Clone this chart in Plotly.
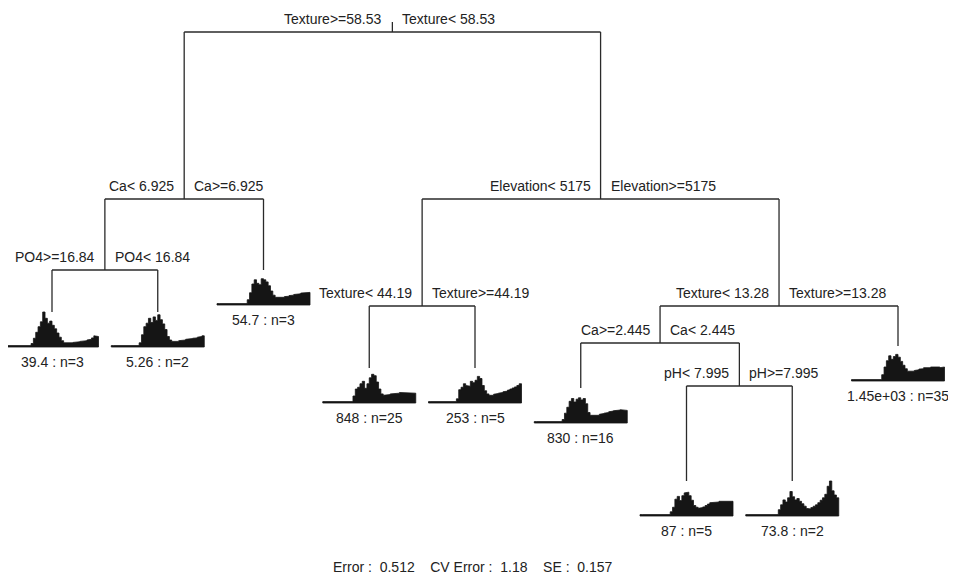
import plotly.graph_objects as go

# ---------------- data ----------------
# internal splits (rpart node number -> left label, right label)
split_nodes = [1, 2, 4, 3, 6, 7, 14, 29]
split_left = ["Texture>=58.53", "Ca< 6.925", "PO4>=16.84", "Elevation< 5175",
              "Texture< 44.19", "Texture< 13.28", "Ca>=2.445", "pH< 7.995"]
split_right = ["Texture< 58.53", "Ca>=6.925", "PO4< 16.84", "Elevation>=5175",
               "Texture>=44.19", "Texture>=13.28", "Ca< 2.445", "pH>=7.995"]

# leaves in left-to-right order
leaf_nodes = [8, 9, 5, 12, 13, 28, 58, 59, 15]
leaf_yval = ["39.4", "5.26", "54.7", "848", "253", "830", "87", "73.8", "1.45e+03"]
leaf_n = [3, 2, 3, 25, 5, 16, 5, 2, 35]

# species profiles shown at each leaf (relative abundance, 0-100)
leaf1 = [4]*11 + [10,25,42,58,72,100,82,68,74,62,52,40,28,18,12,10,10,12,13,14,
                  15,16,18,18,20,22,26,32,30]
leaf2 = [4]*12 + [12,35,58,68,82,70,86,76,92,78,66,50,30,20,16,15,16,18,19,20,
                  22,23,24,25,26,28,30,32]
leaf3 = [4]*13 + [15,35,60,72,62,58,75,72,66,55,40,28,22,20,20,22,24,25,27,28,
                  30,31,32,34,35,36,36]
leaf4 = [4]*13 + [20,40,45,55,62,42,55,72,82,78,60,40,26,22,22,24,26,28,28,28,
                  30,29,28,30,30,28,28]
leaf5 = [4]*12 + [12,38,45,55,50,48,62,58,65,76,70,50,35,26,22,22,25,27,28,30,
                  32,34,37,40,43,46,50,55]
leaf6 = [4]*12 + [10,28,45,62,70,60,68,72,66,70,55,30,22,20,20,22,25,27,28,30,
                  32,34,35,36,37,38,38,36]
leaf7 = [4]*13 + [12,25,48,56,44,58,66,68,58,45,30,25,22,24,26,30,34,38,40,38,
                  40,42,44,42,43,44,42]
leaf8 = [4]*14 + [18,32,46,40,52,70,55,46,50,42,35,28,22,20,24,28,32,38,45,52,
                  62,85,100,72,60,52]
leaf9 = [4]*13 + [18,40,58,72,62,70,76,68,56,45,35,28,26,28,30,32,34,35,38,36,
                  38,40,40,41,40,38,40]
leaf_profiles = [leaf1, leaf2, leaf3, leaf4, leaf5, leaf6, leaf7, leaf8, leaf9]

error_val, cv_error_val, se_val = "0.512", "1.18", "0.157"

# ---------------- layout (tree drawing levels, in axis units) ----------------
node_level = {1: 32, 2: 199, 4: 270, 8: 312, 9: 312, 5: 270, 3: 199, 6: 306,
              12: 368, 13: 368, 7: 306, 14: 343, 28: 388, 29: 386,
              58: 481, 59: 481, 15: 346}
LEAF_X0, LEAF_DX = 52, 105.75
BOX_H, BOX_W = 35, 93
LINE_C = "#2a2a2a"
FONT = dict(family="Liberation Sans, Arial, sans-serif", size=14, color="#222")
PAGE_OFF = 8  # default body margin of the html page

xpos = {}
for i, nd in enumerate(leaf_nodes):
    xpos[nd] = LEAF_X0 + i * LEAF_DX


def get_x(nd):
    if nd in xpos:
        return xpos[nd]
    xpos[nd] = (get_x(2 * nd) + get_x(2 * nd + 1)) / 2
    return xpos[nd]


for nd in split_nodes:
    get_x(nd)

fig = go.Figure()

# edges
ex, ey = [], []
root = split_nodes[0]
ex += [xpos[root], xpos[root], None]
ey += [node_level[root] - 10, node_level[root], None]
for nd in split_nodes:
    l, r = 2 * nd, 2 * nd + 1
    y0 = node_level[nd]
    ex += [xpos[l], xpos[r], None]
    ey += [y0, y0, None]
    for c in (l, r):
        ex += [xpos[c], xpos[c], None]
        ey += [y0, node_level[c], None]
fig.add_trace(go.Scatter(x=ex, y=ey, mode="lines",
                         line=dict(color=LINE_C, width=1.3),
                         hoverinfo="skip", showlegend=False))

# split labels
for nd, lt, rt in zip(split_nodes, split_left, split_right):
    fig.add_annotation(x=xpos[nd], y=node_level[nd] - 13, text=lt, showarrow=False,
                       xanchor="right", yanchor="middle", xshift=-8, font=FONT)
    fig.add_annotation(x=xpos[nd], y=node_level[nd] - 13, text=rt, showarrow=False,
                       xanchor="left", yanchor="middle", xshift=8, font=FONT)

# leaf profiles + labels
for nd, prof, yv, n in zip(leaf_nodes, leaf_profiles, leaf_yval, leaf_n):
    cx = xpos[nd]
    base = node_level[nd] + BOX_H
    left = cx - BOX_W / 2
    w = BOX_W / len(prof)
    px, py = [left], [base]
    for i, v in enumerate(prof):
        h = v / 100 * BOX_H
        px += [left + i * w, left + (i + 1) * w]
        py += [base - h, base - h]
    px += [left + BOX_W, left]
    py += [base, base]
    fig.add_trace(go.Scatter(x=px, y=py, mode="lines", fill="toself",
                             fillcolor="#151515", line=dict(color="#151515", width=0.8),
                             hoverinfo="skip", showlegend=False))
    fig.add_annotation(x=cx, y=base + 15, text=f"{yv} : n={n}", showarrow=False,
                       xanchor="center", yanchor="middle", font=FONT)

sp = "\u00a0"
footer = (f"Error{sp}:{sp}{sp}{error_val}{sp*4}CV{sp}Error{sp}:{sp}{sp}{cv_error_val}"
          f"{sp*4}SE{sp}:{sp}{sp}{se_val}")
fig.add_annotation(x=473, y=567, text=footer, showarrow=False, xanchor="center",
                   yanchor="middle", font=dict(family=FONT["family"], size=14, color="#222"))

fig.update_layout(
    width=956 - PAGE_OFF, height=583 - PAGE_OFF,
    margin=dict(l=0, r=0, t=0, b=0),
    paper_bgcolor="white", plot_bgcolor="white",
    xaxis=dict(range=[PAGE_OFF, 956], visible=False, fixedrange=True),
    yaxis=dict(range=[583, PAGE_OFF], visible=False, fixedrange=True),
)
fig.write_html("out.html")
